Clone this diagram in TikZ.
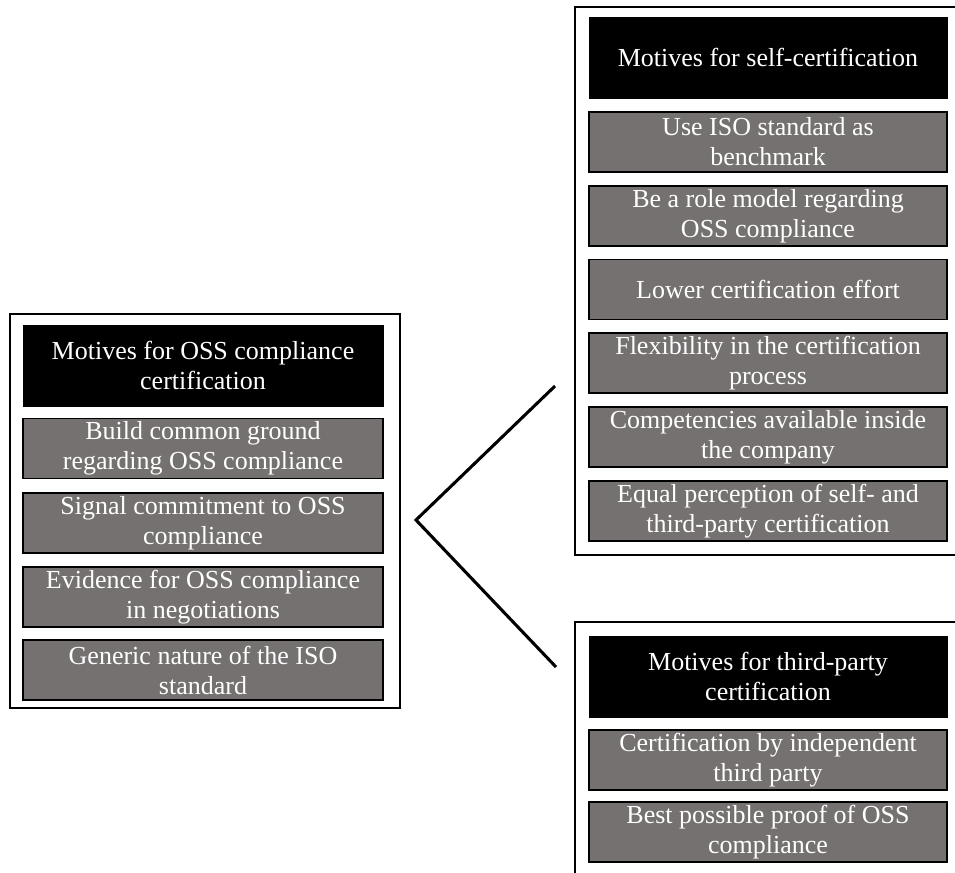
\documentclass[tikz,border=0pt]{standalone}
\usepackage{fontspec}
\setmainfont{Liberation Serif}
\definecolor{itemgray}{RGB}{118,113,113}
\begin{document}
\begin{tikzpicture}[x=0.75pt,y=-0.75pt,
  frame/.style={draw=black,line width=2.2pt},
  headbox/.style={fill=black,draw=black,line width=0.6pt,text=white,align=center,
    inner sep=0pt,minimum height=60.75pt,font=\fontsize{19.5}{22.5}\selectfont},
  itembox/.style={fill=itemgray,draw=black,line width=1.1pt,text=white,align=center,
    inner sep=0pt,minimum height=45pt,font=\fontsize{19.5}{22.5}\selectfont},
  leftw/.style={minimum width=270pt},
  rightw/.style={minimum width=268.5pt},
  branch/.style={draw=black,line width=2.3pt,line join=miter}]
\useasboundingbox (0,0) rectangle (955,872);
\clip (0,0) rectangle (955,872);

% outer frames
\draw[frame] (10,314) rectangle (400,708);
\draw[frame] (575,7) rectangle (990,555);
\draw[frame] (575,622) rectangle (990,900);

% general motives
\node[headbox,leftw] (lh) at (203,365.5) {Motives for OSS compliance\\certification};
\node[itembox,leftw] (l1) at (203,448.5) {Build common ground\\regarding OSS compliance};
\node[itembox,leftw] (l2) at (203,523) {Signal commitment to OSS\\compliance};
\node[itembox,leftw] (l3) at (203,597) {Evidence for OSS compliance\\in negotiations};
\node[itembox,leftw] (l4) at (203,670) {Generic nature of the ISO\\standard};

% self-certification
\node[headbox,rightw] (sh) at (768,57.5) {Motives for self-certification};
\node[itembox,rightw] (s1) at (768,142) {Use ISO standard as\\benchmark};
\node[itembox,rightw] (s2) at (768,216) {Be a role model regarding\\OSS compliance};
\node[itembox,rightw] (s3) at (768,289.5) {Lower certification effort};
\node[itembox,rightw] (s4) at (768,363) {Flexibility in the certification\\process};
\node[itembox,rightw] (s5) at (768,437) {Competencies available inside\\the company};
\node[itembox,rightw] (s6) at (768,511) {Equal perception of self- and\\third-party certification};

% third-party certification
\node[headbox,rightw] (th) at (768,676.5) {Motives for third-party\\certification};
\node[itembox,rightw] (t1) at (768,760) {Certification by independent\\third party};
\node[itembox,rightw] (t2) at (768,832) {Best possible proof of OSS\\compliance};

% branching bracket
\coordinate (apex) at (416,520);
\coordinate (upper) at (555,386);
\coordinate (lower) at (556,667);
\draw[branch] (upper) -- (apex) -- (lower);
\end{tikzpicture}
\end{document}
